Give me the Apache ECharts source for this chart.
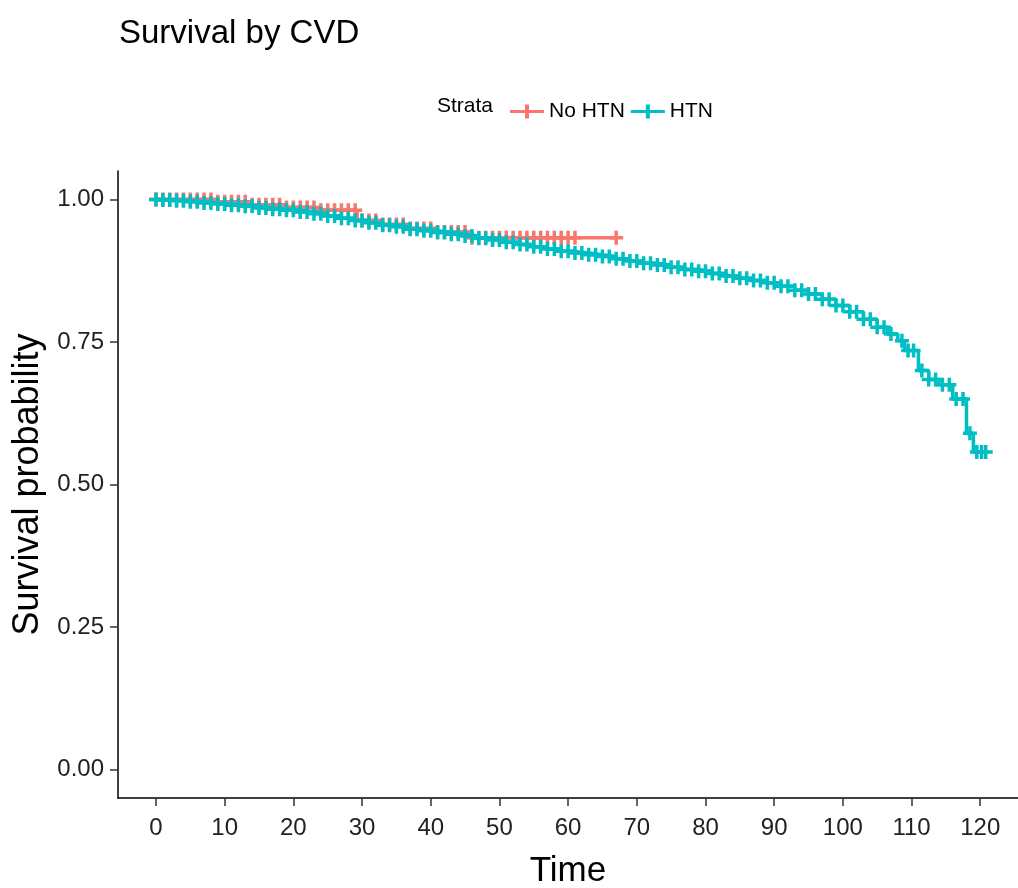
<!DOCTYPE html>
<html>
<head>
<meta charset="utf-8">
<title>Survival by CVD</title>
<script src="https://cdn.jsdelivr.net/npm/echarts@6/dist/echarts.min.js"></script>
<style>
  html, body { margin: 0; padding: 0; background: #fff; }
  #chart { width: 1018px; height: 888px; }
</style>
</head>
<body>
<div id="chart"></div>
<script>
// x / y tick labels
const xTicks = [0, 10, 20, 30, 40, 50, 60, 70, 80, 90, 100, 110, 120]
const yTicks = [0, 0.25, 0.5, 0.75, 1]

// No HTN: step curve (event times, survival), last point = end of follow-up
const noHtnTime = [0, 9, 14, 19, 24, 29.3, 33, 37, 41, 45.5, 67]
const noHtnSurv = [1, 0.996, 0.991, 0.986, 0.981, 0.963, 0.956, 0.949, 0.943, 0.933, 0.933]
const noHtnCensor = [0, 1, 2, 3, 4, 5, 6, 7, 8, 9, 10, 11, 12, 13, 14, 15, 16, 17, 18, 19, 20,
  21, 22, 23, 24, 25, 26, 27, 28, 29, 30, 31, 32, 33, 34, 35, 36, 37, 38, 39, 40, 41, 42, 43,
  44, 45, 46, 47, 48, 49, 50, 51, 52, 53, 54, 55, 56, 57, 58, 59, 60, 61, 67]

// HTN
const htnTime = [0, 1, 3, 5, 7, 9, 11, 13, 15, 17, 19, 21, 23, 25, 27, 29, 31, 33, 35, 37, 39,
  41, 43, 45, 47, 49, 51, 53, 55, 57, 59, 61, 63, 65, 67, 69, 71, 73, 75, 77, 79, 81, 83, 85,
  87, 89, 91, 93, 95, 97, 99, 101, 103, 105, 106.5, 108, 109, 111, 112.5, 114, 116, 118, 119, 121]
const htnSurv = [1, 0.999, 0.998, 0.996, 0.994, 0.992, 0.990, 0.988, 0.985, 0.983, 0.981, 0.978,
  0.975, 0.971, 0.967, 0.963, 0.959, 0.955, 0.952, 0.948, 0.945, 0.942, 0.939, 0.936, 0.932,
  0.929, 0.925, 0.921, 0.917, 0.913, 0.909, 0.906, 0.903, 0.900, 0.896, 0.892, 0.888, 0.885,
  0.881, 0.877, 0.874, 0.870, 0.866, 0.862, 0.858, 0.854, 0.848, 0.841, 0.834, 0.825, 0.814,
  0.803, 0.790, 0.776, 0.764, 0.752, 0.735, 0.700, 0.684, 0.675, 0.650, 0.590, 0.557, 0.557]
const htnCensor = [0, 1, 2, 3, 4, 5, 6, 7, 8, 9, 10, 11, 12, 13, 14, 15, 16, 17, 18, 19, 20,
  21, 22, 23, 24, 25, 26, 27, 28, 29, 30, 31, 32, 33, 34, 35, 36, 37, 38, 39, 40, 41, 42, 43,
  44, 45, 46, 47, 48, 49, 50, 51, 52, 53, 54, 55, 56, 57, 58, 59, 60, 61, 62, 63, 64, 65, 66,
  67, 68, 69, 70, 71, 72, 73, 74, 75, 76, 77, 78, 79, 80, 81, 82, 83, 84, 85, 86, 87, 88, 89,
  90, 91, 92, 93, 94, 95, 96, 97, 98, 99, 100, 101, 102, 103, 104, 105, 106, 107, 108.6, 109.5,
  110.3, 111.5, 112.5, 113.5, 114.5, 115.5, 116.5, 117.5, 118.5, 119.5, 120.2, 120.8]

const RED = '#F8766D'
const TEAL = '#00BFC4'
const FONT = '"Liberation Sans", Arial, sans-serif'
const PLUS = 'path://M-1.5,-6H1.5V-1.5H6V1.5H1.5V6H-1.5V1.5H-6V-1.5H-1.5Z'

// survival value in force at time t (KM step function)
function survAt(times, surv, t) {
  let s = surv[0]
  for (let i = 0; i < times.length; i++) {
    if (times[i] <= t) s = surv[i]
  }
  return s
}

function pairs(xs, ys) {
  return xs.map((x, i) => [x, ys[i]])
}

function censorPoints(times, surv, cens) {
  return cens.map(t => [t, survAt(times, surv, t)])
}

const chart = echarts.init(document.getElementById('chart'))

chart.setOption({
  animation: false,
  backgroundColor: '#fff',
  title: {
    text: 'Survival by CVD',
    left: 114,
    top: 12,
    textStyle: { fontFamily: FONT, fontSize: 33, fontWeight: 'normal', color: '#000' }
  },
  graphic: [
    {
      type: 'text',
      left: 437,
      top: 96,
      style: { text: 'Strata', font: '21px ' + FONT, fill: '#000' }
    }
  ],
  legend: {
    left: 505,
    top: 96,
    itemWidth: 34,
    itemHeight: 14,
    itemGap: 6,
    textStyle: { fontFamily: FONT, fontSize: 21, color: '#000' },
    data: [
      { name: 'No HTN', icon: 'path://M0,5.5H34V8.5H0Z M15,0H19V14H15Z', itemStyle: { color: RED } },
      { name: 'HTN', icon: 'path://M0,5.5H34V8.5H0Z M15,0H19V14H15Z', itemStyle: { color: TEAL } }
    ]
  },
  grid: { left: 118, right: 0, top: 171, bottom: 90, outerBoundsMode: 'none' },
  xAxis: {
    type: 'value',
    min: -5.53,
    max: 125.5,
    name: 'Time',
    nameLocation: 'middle',
    nameGap: 56,
    nameTextStyle: { fontFamily: FONT, fontSize: 35, color: '#000' },
    splitLine: { show: false },
    axisLine: { onZero: false, lineStyle: { color: '#000', width: 1.5 } },
    axisTick: { length: 8, customValues: xTicks, lineStyle: { color: '#333', width: 1.5 } },
    axisLabel: {
      customValues: xTicks,
      margin: 18,
      fontFamily: FONT,
      fontSize: 24,
      color: '#222'
    }
  },
  yAxis: {
    type: 'value',
    min: -0.05,
    max: 1.05,
    name: 'Survival probability',
    nameLocation: 'middle',
    nameGap: 70,
    nameTextStyle: { fontFamily: FONT, fontSize: 36, color: '#000' },
    splitLine: { show: false },
    axisLine: { onZero: false, lineStyle: { color: '#000', width: 1.5 } },
    axisTick: { length: 8, customValues: yTicks, lineStyle: { color: '#333', width: 1.5 } },
    axisLabel: {
      customValues: yTicks,
      margin: 14,
      fontFamily: FONT,
      fontSize: 24,
      color: '#222',
      formatter: v => v.toFixed(2)
    }
  },
  series: [
    {
      name: 'No HTN',
      type: 'line',
      step: 'end',
      data: pairs(noHtnTime, noHtnSurv),
      showSymbol: false,
      lineStyle: { color: RED, width: 3.5 },
      itemStyle: { color: RED },
      z: 2
    },
    {
      name: 'No HTN',
      type: 'scatter',
      data: censorPoints(noHtnTime, noHtnSurv, noHtnCensor),
      symbol: PLUS,
      symbolSize: 14,
      itemStyle: { color: RED, opacity: 1 },
      z: 3
    },
    {
      name: 'HTN',
      type: 'line',
      step: 'end',
      data: pairs(htnTime, htnSurv),
      showSymbol: false,
      lineStyle: { color: TEAL, width: 3.5 },
      itemStyle: { color: TEAL },
      z: 4
    },
    {
      name: 'HTN',
      type: 'scatter',
      data: censorPoints(htnTime, htnSurv, htnCensor),
      symbol: PLUS,
      symbolSize: 14,
      itemStyle: { color: TEAL, opacity: 1 },
      z: 5
    }
  ]
})

window.addEventListener('resize', () => chart.resize())
</script>
</body>
</html>
